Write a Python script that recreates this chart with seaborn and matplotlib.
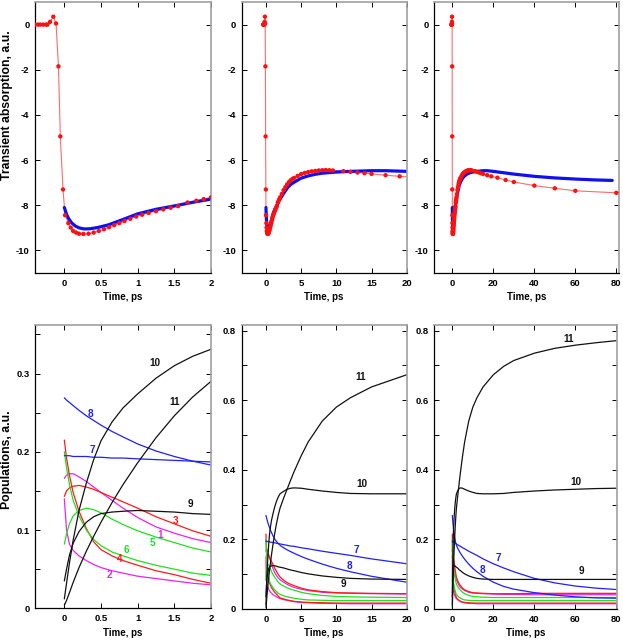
import matplotlib
matplotlib.use("Agg")
import matplotlib.pyplot as plt
import numpy as np
import pandas as pd
import seaborn as sns
from matplotlib.ticker import FixedLocator, FuncFormatter

# ---------------- data: transient absorption (measured, red dots) -------------
ta_time = [-0.40, -0.36, -0.33, -0.29, -0.25, -0.23, -0.195, -0.15, -0.113, -0.08, -0.055, -0.018,
           0.01, 0.055, 0.087, 0.12, 0.16, 0.2, 0.26, 0.33, 0.4, 0.47, 0.54, 0.61, 0.68, 0.75, 0.82,
           0.9, 0.98, 1.06, 1.15, 1.25, 1.35, 1.45, 1.55, 1.68, 1.8, 1.9, 2.0,
           2.25, 2.5, 2.75, 3.0, 3.25, 3.5, 3.75, 4.0, 4.5, 5.0, 5.5, 6.0, 6.5, 7.0, 7.5, 8.0, 8.5,
           9.0, 9.5, 11, 12, 13, 14, 15, 17, 19, 22, 26, 30, 40, 50, 60, 80]
ta_value = [0, 0, 0, 0, 0, 0, 0.12, 0.35, 0.05, -1.85, -4.95, -7.3,
            -8.44, -8.79, -8.99, -9.14, -9.21, -9.26, -9.27, -9.26, -9.21, -9.14, -9.06, -8.97, -8.88,
            -8.79, -8.7, -8.6, -8.5, -8.42, -8.34, -8.26, -8.18, -8.11, -8.04, -7.88, -7.8, -7.73, -7.65,
            -7.5, -7.33, -7.2, -7.08, -6.98, -6.9, -6.84, -6.79, -6.7, -6.62, -6.57, -6.53, -6.5, -6.48,
            -6.46, -6.45, -6.44, -6.45, -6.46, -6.49, -6.52, -6.55, -6.58, -6.61, -6.67, -6.72, -6.78,
            -6.88, -6.97, -7.13, -7.25, -7.36, -7.45]

# fit (blue line)
fit_time = [0, 0.03, 0.06, 0.1, 0.15, 0.2, 0.27, 0.35, 0.45, 0.6, 0.8, 1.0, 1.25, 1.5, 1.75, 2.0,
            2.5, 3, 3.5, 4, 5, 6, 7, 8, 10, 12, 15, 17, 20, 25, 30, 40, 50, 60, 70, 78]
fit_value = [-8.1, -8.4, -8.6, -8.78, -8.92, -9.0, -9.05, -9.04, -8.99, -8.87, -8.63, -8.38, -8.18,
             -8.03, -7.87, -7.73, -7.48, -7.25, -7.08, -6.98, -6.8, -6.7, -6.63, -6.58, -6.53, -6.5,
             -6.47, -6.47, -6.5, -6.56, -6.62, -6.72, -6.79, -6.84, -6.88, -6.9]

# ---------------- data: populations ----------------
pop_time = [0, 0.03, 0.07, 0.12, 0.2, 0.3, 0.4, 0.5, 0.65, 0.8, 1.0, 1.25, 1.5, 1.75, 2.0,
            2.5, 3, 3.5, 4, 5, 6, 8, 10, 12, 15, 20, 25, 30, 40, 50, 60, 70, 80]
pop1 = [0.166, 0.170, 0.172, 0.172, 0.168, 0.162, 0.155, 0.148, 0.138, 0.128, 0.116, 0.104, 0.096, 0.089, 0.084,
        0.077, 0.071, 0.066, 0.062, 0.057, 0.053, 0.048, 0.046, 0.045, 0.044, 0.043, 0.042, 0.042, 0.041, 0.041, 0.041, 0.041, 0.041]
pop2 = [0.140, 0.100, 0.082, 0.074, 0.067, 0.061, 0.056, 0.052, 0.048, 0.045, 0.041, 0.038, 0.035, 0.032, 0.030,
        0.027, 0.025, 0.023, 0.021, 0.019, 0.018, 0.016, 0.016, 0.015, 0.015, 0.015, 0.015, 0.015, 0.015, 0.015, 0.015, 0.015, 0.015]
pop3 = [0.143, 0.150, 0.154, 0.156, 0.157, 0.155, 0.152, 0.148, 0.142, 0.136, 0.128, 0.117, 0.108, 0.099, 0.092,
        0.083, 0.076, 0.071, 0.067, 0.060, 0.055, 0.050, 0.047, 0.046, 0.045, 0.044, 0.044, 0.044, 0.045, 0.045, 0.045, 0.045, 0.045]
pop4 = [0.215, 0.192, 0.170, 0.148, 0.124, 0.102, 0.085, 0.075, 0.067, 0.061, 0.055, 0.048, 0.043, 0.037, 0.032,
        0.029, 0.026, 0.024, 0.022, 0.020, 0.019, 0.018, 0.017, 0.017, 0.017, 0.017, 0.017, 0.017, 0.017, 0.017, 0.017, 0.017, 0.017]
pop5 = [0.082, 0.095, 0.108, 0.118, 0.125, 0.128, 0.126, 0.122, 0.114, 0.107, 0.099, 0.091, 0.084, 0.077, 0.072,
        0.066, 0.061, 0.057, 0.054, 0.048, 0.044, 0.039, 0.036, 0.035, 0.034, 0.033, 0.033, 0.033, 0.033, 0.033, 0.033, 0.033, 0.033]
pop6 = [0.200, 0.180, 0.158, 0.138, 0.118, 0.100, 0.088, 0.080, 0.072, 0.067, 0.061, 0.055, 0.050, 0.045, 0.042,
        0.038, 0.035, 0.033, 0.031, 0.028, 0.026, 0.025, 0.024, 0.024, 0.024, 0.024, 0.024, 0.024, 0.024, 0.024, 0.024, 0.024, 0.024]
pop7 = [0.195, 0.195, 0.195, 0.194, 0.194, 0.194, 0.193, 0.193, 0.192, 0.192, 0.191, 0.190, 0.189, 0.188, 0.187,
        0.185, 0.183, 0.181, 0.180, 0.176, 0.173, 0.166, 0.160, 0.154, 0.144, 0.130, 0.118, 0.107, 0.088, 0.075, 0.066, 0.060, 0.056]
pop8 = [0.269, 0.266, 0.263, 0.259, 0.253, 0.246, 0.240, 0.234, 0.226, 0.219, 0.210, 0.201, 0.194, 0.188, 0.183,
        0.176, 0.170, 0.165, 0.160, 0.151, 0.143, 0.129, 0.117, 0.107, 0.094, 0.077, 0.065, 0.057, 0.047, 0.040, 0.035, 0.032, 0.031]
pop9 = [0.035, 0.050, 0.068, 0.083, 0.098, 0.110, 0.117, 0.121, 0.123, 0.124, 0.125, 0.124, 0.123, 0.121, 0.120,
        0.118, 0.115, 0.112, 0.110, 0.105, 0.101, 0.095, 0.091, 0.088, 0.086, 0.085, 0.085, 0.085, 0.085, 0.085, 0.085, 0.085, 0.085]
pop10 = [0.012, 0.032, 0.058, 0.087, 0.125, 0.160, 0.190, 0.214, 0.238, 0.256, 0.274, 0.294, 0.310, 0.322, 0.331,
         0.338, 0.344, 0.347, 0.348, 0.347, 0.344, 0.339, 0.335, 0.332, 0.331, 0.331, 0.332, 0.335, 0.339, 0.342, 0.344, 0.346, 0.347]
pop11 = [0.004, 0.010, 0.020, 0.033, 0.052, 0.073, 0.092, 0.110, 0.135, 0.158, 0.186, 0.218, 0.246, 0.270, 0.290,
         0.318, 0.344, 0.370, 0.395, 0.440, 0.480, 0.540, 0.580, 0.607, 0.638, 0.673, 0.697, 0.714, 0.735, 0.749, 0.758, 0.765, 0.771]

pop_names = ["1", "2", "3", "4", "5", "6", "7", "8", "9", "10", "11"]
pop_series = [pop1, pop2, pop3, pop4, pop5, pop6, pop7, pop8, pop9, pop10, pop11]
pop_colors = {"1": "#ee22ee", "2": "#ee22ee", "3": "#ff1a1a", "4": "#ff1a1a",
              "5": "#1ee01e", "6": "#1ee01e", "7": "#1f1fff", "8": "#1f1fff",
              "9": "#111111", "10": "#111111", "11": "#111111"}

# curve labels per bottom panel: (text, x, y)
labels_left = [("10", 1.23, 0.313), ("11", 1.51, 0.263), ("8", 0.36, 0.248), ("7", 0.38, 0.202),
               ("9", 1.72, 0.133), ("3", 1.52, 0.111), ("1", 1.30, 0.094), ("5", 1.20, 0.084),
               ("6", 0.85, 0.074), ("4", 0.75, 0.063), ("2", 0.61, 0.043)]
labels_mid = [("11", 13.5, 0.668), ("10", 13.6, 0.359), ("7", 12.9, 0.170), ("8", 11.9, 0.124), ("9", 11.0, 0.072)]
labels_right = [("11", 56.6, 0.775), ("10", 60.3, 0.366), ("7", 22.4, 0.146), ("8", 14.6, 0.112), ("9", 63.0, 0.110)]

# ---------------- build tables ----------------
ta_df = pd.DataFrame({"t": ta_time, "v": ta_value})
fit_df = pd.DataFrame({"t": fit_time, "v": fit_value})
pop_df = pd.concat([pd.DataFrame({"t": pop_time, "v": s, "curve": n})
                    for n, s in zip(pop_names, pop_series)], ignore_index=True)

# ---------------- style ----------------
sns.set_theme(style="ticks")
plt.rcParams["font.family"] = ["Liberation Sans", "DejaVu Sans"]
plt.rcParams["font.weight"] = "bold"
plt.rcParams["axes.unicode_minus"] = False

W, H = 623, 640
fig = plt.figure(figsize=(W / 100, H / 100), dpi=100)
fig.patch.set_facecolor("white")


def add_ax(x0, x1, y0, y1):
    return fig.add_axes([x0 / W, 1 - y1 / H, (x1 - x0) / W, (y1 - y0) / H])


def fmt_all(v, p):
    return f"{v:g}"


def style(ax, xlim, ylim, xticks, yticks, ylabel_fn):
    ax.set_xlim(xlim)
    ax.set_ylim(ylim)
    ax.xaxis.set_major_locator(FixedLocator(xticks))
    ax.yaxis.set_major_locator(FixedLocator(yticks))
    ax.xaxis.set_major_formatter(FuncFormatter(fmt_all))
    ax.yaxis.set_major_formatter(FuncFormatter(ylabel_fn))
    ax.set_xlabel("")
    ax.set_ylabel("")
    ax.set_facecolor("white")
    ax.tick_params(direction="in", length=3.5, width=0.7, top=True, right=True,
                   labelsize=6.8, pad=4, colors="black")
    for lab in ax.get_xticklabels() + ax.get_yticklabels():
        lab.set_fontweight("bold")
    for side in ["left", "bottom"]:
        ax.spines[side].set_color("black")
        ax.spines[side].set_linewidth(0.9)
    for side in ["top", "right"]:
        ax.spines[side].set_color("#a0a0a0")
        ax.spines[side].set_linewidth(1.2)


def draw_ta(ax):
    sns.lineplot(data=ta_df, x="t", y="v", ax=ax, color="#ff6a6a", lw=0.8,
                 estimator=None, sort=False)
    sns.lineplot(data=fit_df, x="t", y="v", ax=ax, color="#1010ee", lw=2.3,
                 estimator=None, sort=False)
    sns.scatterplot(data=ta_df, x="t", y="v", ax=ax, color="#ff1010", s=10,
                    edgecolor="none", zorder=5)


def draw_pop(ax, labels):
    sns.lineplot(data=pop_df, x="t", y="v", hue="curve", palette=pop_colors, ax=ax,
                 lw=0.9, estimator=None, sort=False, legend=False)
    for txt, x, y in labels:
        ax.text(x, y, txt, color=pop_colors[txt], fontsize=7.2, fontweight="bold",
                ha="center", va="center")


ta_yticks = [-10, -8, -6, -4, -2, 0]

ax1 = add_ax(35, 211, 2, 273)
draw_ta(ax1)
style(ax1, (-0.4, 2.0), (-11, 1), [0, 0.5, 1, 1.5, 2], ta_yticks, fmt_all)

ax2 = add_ax(241.7, 406.7, 2, 273)
draw_ta(ax2)
style(ax2, (-3.45, 20), (-11, 1), [0, 5, 10, 15, 20], ta_yticks, fmt_all)

ax3 = add_ax(434.3, 619, 2, 273)
draw_ta(ax3)
style(ax3, (-8.8, 81.3), (-11, 1), [0, 20, 40, 60, 80], ta_yticks, fmt_all)


def fmt_left_pop(v, p):
    return f"{v:g}" if round(v * 20) % 2 == 0 else ""


def fmt_pop(v, p):
    return f"{v:g}" if round(v * 10) % 2 == 0 else ""


ax4 = add_ax(35, 211, 325, 608.3)
draw_pop(ax4, labels_left)
style(ax4, (-0.4, 2.0), (0, 0.362), [0, 0.5, 1, 1.5, 2],
      [0, 0.05, 0.1, 0.15, 0.2, 0.25, 0.3, 0.35], fmt_left_pop)

ax5 = add_ax(241.7, 406.7, 325, 609)
draw_pop(ax5, labels_mid)
style(ax5, (-3.45, 20), (0, 0.816), [0, 5, 10, 15, 20],
      [0, 0.1, 0.2, 0.3, 0.4, 0.5, 0.6, 0.7, 0.8], fmt_pop)

ax6 = add_ax(434.3, 616.7, 325, 609)
draw_pop(ax6, labels_right)
style(ax6, (-8.8, 80.2), (0, 0.816), [0, 20, 40, 60, 80],
      [0, 0.1, 0.2, 0.3, 0.4, 0.5, 0.6, 0.7, 0.8], fmt_pop)

# axis titles
lab_kw = dict(fontsize=7, fontweight="bold", ha="center", va="center", color="black")
for xc in (123, 324, 526.5):
    fig.text(xc / W, 1 - 297 / H, "Time, ps", **lab_kw)
for xc in (123, 324, 525.5):
    fig.text(xc / W, 1 - 633 / H, "Time, ps", **lab_kw)
ylab_kw = dict(lab_kw, fontsize=8.8)
fig.text(7 / W, 1 - 105 / H, "Transient absorption, a.u.", rotation=90, **ylab_kw)
fig.text(7 / W, 1 - 460 / H, "Populations, a.u.", rotation=90, **ylab_kw)

fig.savefig("out.png", dpi=100, facecolor="white")
